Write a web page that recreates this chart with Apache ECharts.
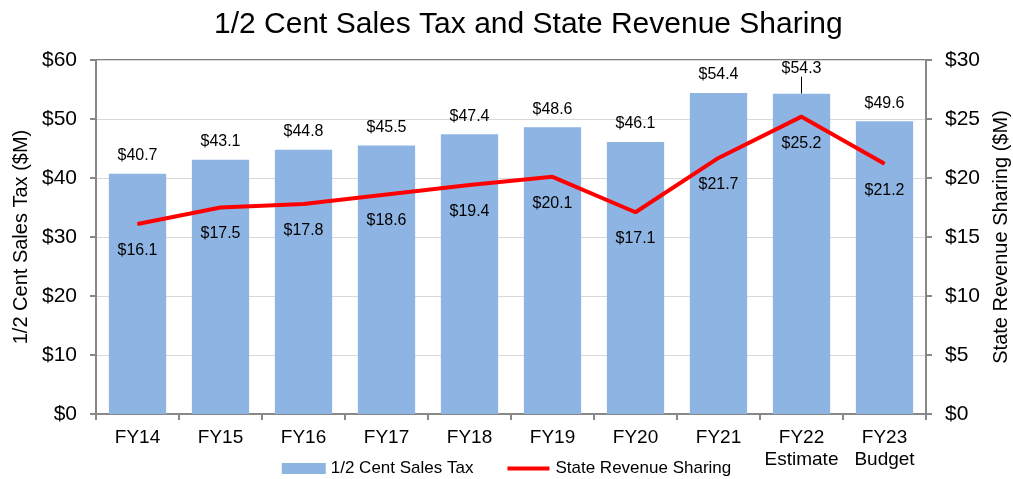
<!DOCTYPE html>
<html><head><meta charset="utf-8">
<script src="https://cdn.jsdelivr.net/npm/echarts@6/dist/echarts.min.js"></script>
<style>html,body{margin:0;padding:0;background:#fff}#c{width:1013px;height:479px}</style>
</head><body><div id="c"></div>
<script>
const categories = ['FY14','FY15','FY16','FY17','FY18','FY19','FY20','FY21','FY22\nEstimate','FY23\nBudget'];
const salesTax = [40.7, 43.1, 44.8, 45.5, 47.4, 48.6, 46.1, 54.4, 54.3, 49.6];
const stateRevenue = [16.1, 17.5, 17.8, 18.6, 19.4, 20.1, 17.1, 21.7, 25.2, 21.2];
const FONT = '"Liberation Sans", Arial, sans-serif';

const chart = echarts.init(document.getElementById('c'), null, {renderer:'canvas'});
chart.setOption({
  animation: false,
  textStyle: {fontFamily: FONT, color: '#000'},
  title: {
    text: '1/2 Cent Sales Tax and State Revenue Sharing',
    left: 209, top: 5,
    textStyle: {fontFamily: FONT, fontSize: 30, fontWeight: 'normal', color: '#000'}
  },
  legend: {
    top: 455, left: 'center',
    itemGap: 33,
    textStyle: {fontFamily: FONT, fontSize: 17, color: '#000'},
    data: [
      {name: '1/2 Cent Sales Tax', icon: 'path://M0,0 H44 V11 H0 Z', itemStyle: {color: '#8eb4e3'}},
      {name: 'State Revenue Sharing', icon: 'path://M0,0 L0,0 M44,11 L44,11 M1,3.5 H43 V7.5 H1 Z', itemStyle: {color: '#ff0000'}}
    ],
    itemWidth: 44, itemHeight: 11
  },
  grid: {left: 96, right: 87, top: 60, bottom: 65, outerBoundsMode: 'none', show: true, borderColor: '#000', borderWidth: 1},
  xAxis: {
    type: 'category', data: categories,
    axisLine: {lineStyle: {color: '#888', width: 2}},
    axisTick: {show: true, length: 6, lineStyle: {color: '#888', width: 2}},
    axisLabel: {interval: 0, fontFamily: FONT, fontSize: 19, color: '#000', margin: 13, lineHeight: 22}
  },
  yAxis: [
    {
      type: 'value', min: 0, max: 60, interval: 10,
      name: '1/2 Cent Sales Tax ($M)', nameLocation: 'middle', nameGap: 64, nameRotate: 90,
      nameTextStyle: {fontFamily: FONT, fontSize: 20, color: '#000'},
      axisLine: {show: true, lineStyle: {color: '#888', width: 2}},
      axisTick: {show: true, length: 6, lineStyle: {color: '#888', width: 2}},
      axisLabel: {fontFamily: FONT, fontSize: 21, color: '#000', margin: 19, formatter: v => '$' + v},
      splitLine: {lineStyle: {color: '#d9d9d9', width: 1}}
    },
    {
      type: 'value', min: 0, max: 30, interval: 5,
      name: 'State Revenue Sharing ($M)', nameLocation: 'middle', nameGap: 65, nameRotate: 90,
      nameTextStyle: {fontFamily: FONT, fontSize: 20, color: '#000'},
      axisLine: {show: true, lineStyle: {color: '#888', width: 2}},
      axisTick: {show: true, length: 6, lineStyle: {color: '#888', width: 2}},
      axisLabel: {fontFamily: FONT, fontSize: 21, color: '#000', margin: 19, formatter: v => '$' + v},
      splitLine: {show: false}
    }
  ],
  series: [
    {
      name: '1/2 Cent Sales Tax', type: 'bar', yAxisIndex: 0,
      data: salesTax.map((v, i) => i === 8 ? {value: v, labelLine: {show: true}} : {value: v, labelLine: {show: false}}),
      barCategoryGap: '31%',
      itemStyle: {color: '#8eb4e3'},
      label: {show: true, position: 'top', distance: 10, fontFamily: FONT, fontSize: 16, color: '#000',
        formatter: p => '$' + p.value.toFixed(1)},
      labelLayout: p => p.dataIndex === 8 ? {dy: -7} : {},
      labelLine: {lineStyle: {color: '#000', width: 1}}
    },
    {
      name: 'State Revenue Sharing', type: 'line', data: stateRevenue, yAxisIndex: 1,
      symbol: 'circle', symbolSize: 1, showSymbol: true,
      lineStyle: {color: '#ff0000', width: 4}, itemStyle: {color: '#ff0000'},
      label: {show: true, position: 'bottom', distance: 18, fontFamily: FONT, fontSize: 16, color: '#000',
        formatter: p => '$' + p.value.toFixed(1)},
      z: 5
    }
  ]
});
</script></body></html>
